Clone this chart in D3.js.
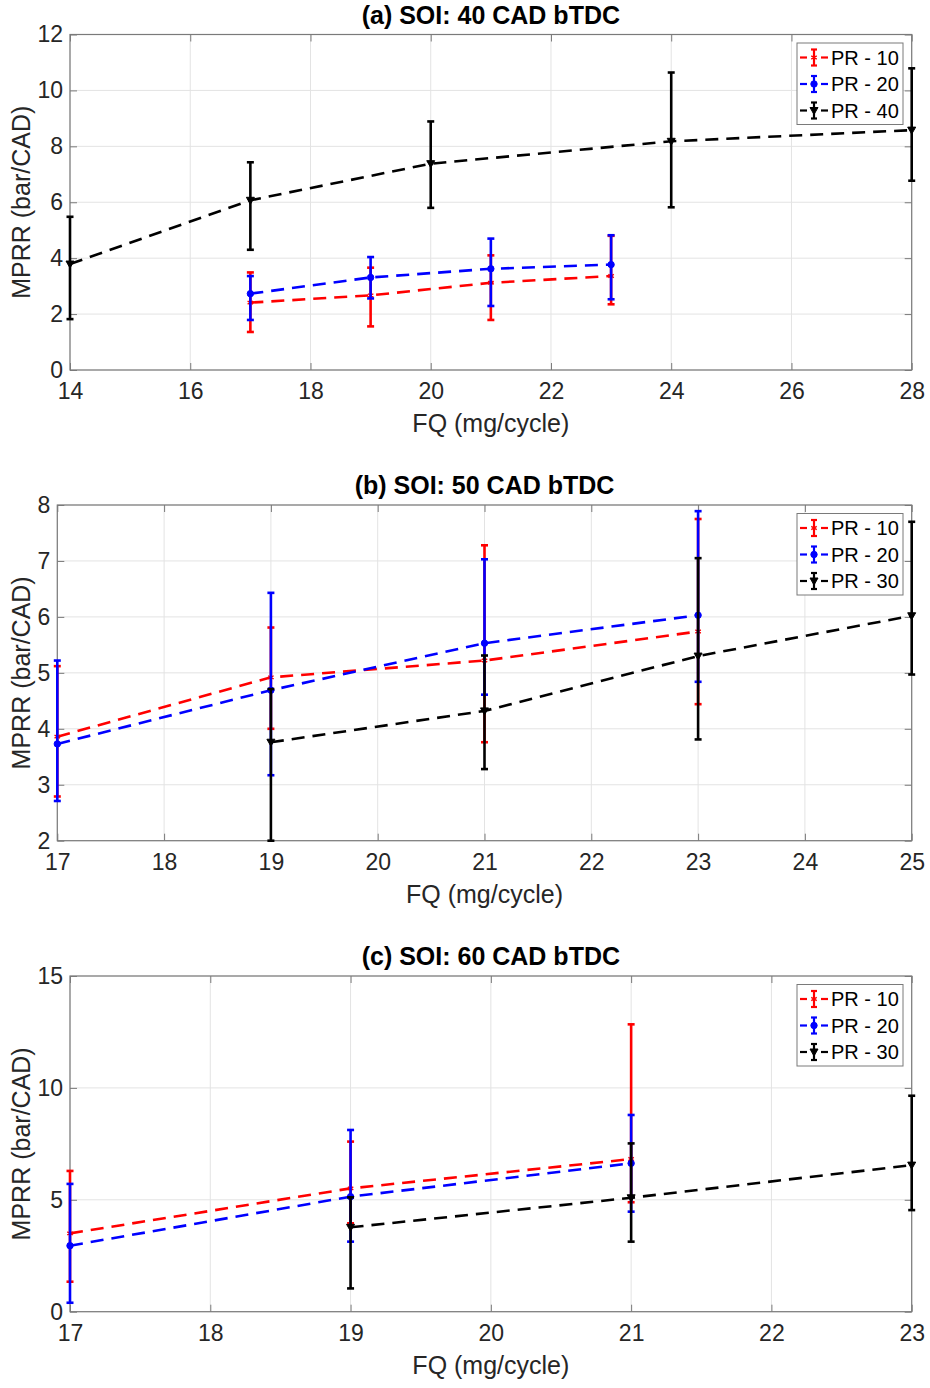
<!DOCTYPE html>
<html>
<head>
<meta charset="utf-8">
<script src="https://cdn.jsdelivr.net/npm/d3@7"></script>
<style>
  body { margin: 0; background: #fff; }
  svg { display: block; font-family: "Liberation Sans", Arial, Helvetica, sans-serif; }
</style>
</head>
<body>
<svg id="chart" width="930" height="1388"></svg>
<script>
// ---- data ----
// (a) SOI 40 CAD bTDC
var fqA = [17, 19, 21, 23];
var fqA40 = [14, 17, 20, 24, 28];
var meanA10 = [2.41, 2.67, 3.12, 3.36], lowA10 = [1.36, 1.56, 1.79, 2.35], highA10 = [3.49, 3.66, 4.10, 4.80];
var meanA20 = [2.73, 3.31, 3.62, 3.77], lowA20 = [1.79, 2.56, 2.29, 2.53], highA20 = [3.36, 4.04, 4.70, 4.82];
var meanA40 = [3.79, 6.07, 7.38, 8.18, 8.58], lowA40 = [1.82, 4.30, 5.80, 5.82, 6.77], highA40 = [5.48, 7.43, 8.89, 10.64, 10.79];

// (b) SOI 50 CAD bTDC
var fqB = [17, 19, 21, 23];
var fqB30 = [19, 21, 23, 25];
var meanB10 = [3.86, 4.92, 5.22, 5.74], lowB10 = [2.79, 4.00, 3.76, 4.44], highB10 = [5.12, 5.81, 7.28, 7.75];
var meanB20 = [3.73, 4.69, 5.53, 6.03], lowB20 = [2.71, 3.17, 4.61, 4.84], highB20 = [5.22, 6.43, 7.03, 7.89];
var meanB30 = [3.76, 4.32, 5.30, 6.02], lowB30 = [2.00, 3.28, 3.81, 4.97], highB30 = [4.71, 5.31, 7.05, 7.70];

// (c) SOI 60 CAD bTDC
var fqC = [17, 19, 21];
var fqC30 = [19, 21, 23];
var meanC10 = [3.50, 5.51, 6.82], lowC10 = [1.34, 3.95, 4.89], highC10 = [6.29, 7.60, 12.84];
var meanC20 = [2.95, 5.14, 6.63], lowC20 = [0.40, 3.13, 4.47], highC20 = [5.71, 8.12, 8.79];
var meanC30 = [3.77, 5.09, 6.55], lowC30 = [1.04, 3.13, 4.54], highC30 = [5.11, 7.52, 9.65];

var xTicksA = [14, 16, 18, 20, 22, 24, 26, 28], yTicksA = [0, 2, 4, 6, 8, 10, 12];
var xTicksB = [17, 18, 19, 20, 21, 22, 23, 24, 25], yTicksB = [2, 3, 4, 5, 6, 7, 8];
var xTicksC = [17, 18, 19, 20, 21, 22, 23], yTicksC = [0, 5, 10, 15];

var svg = d3.select("#chart");

function series(label, color, marker, x, mean, low, high) {
  return { label: label, color: color, marker: marker,
    points: x.map(function (v, i) { return { x: v, y: mean[i], lo: low[i], hi: high[i] }; }) };
}

var panels = [
  { title: "(a) SOI: 40 CAD bTDC", box: [70, 34.5, 911.7, 370], xTicks: xTicksA, yTicks: yTicksA,
    series: [series("PR - 10", "#ff0000", "star", fqA, meanA10, lowA10, highA10),
             series("PR - 20", "#0000ff", "circle", fqA, meanA20, lowA20, highA20),
             series("PR - 40", "#000000", "tri", fqA40, meanA40, lowA40, highA40)] },
  { title: "(b) SOI: 50 CAD bTDC", box: [57.3, 505, 911.7, 840.7], xTicks: xTicksB, yTicks: yTicksB,
    series: [series("PR - 10", "#ff0000", "star", fqB, meanB10, lowB10, highB10),
             series("PR - 20", "#0000ff", "circle", fqB, meanB20, lowB20, highB20),
             series("PR - 30", "#000000", "tri", fqB30, meanB30, lowB30, highB30)] },
  { title: "(c) SOI: 60 CAD bTDC", box: [70, 976, 911.7, 1311.7], xTicks: xTicksC, yTicks: yTicksC,
    series: [series("PR - 10", "#ff0000", "star", fqC, meanC10, lowC10, highC10),
             series("PR - 20", "#0000ff", "circle", fqC, meanC20, lowC20, highC20),
             series("PR - 30", "#000000", "tri", fqC30, meanC30, lowC30, highC30)] }
];

function drawMarker(g, type, color) {
  if (type === "circle") {
    g.append("circle").attr("r", 3.2).attr("fill", color).attr("stroke", color);
  } else if (type === "tri") {
    g.append("path").attr("d", "M-4,-3L4,-3L0,4Z").attr("fill", color).attr("stroke", color).attr("stroke-width", 1);
  } else {
    g.append("path").attr("d", d3.symbol(d3.symbolAsterisk, 28)()).attr("fill", "none")
      .attr("stroke", color).attr("stroke-width", 1.4);
  }
}

panels.forEach(function (p) {
  var L = p.box[0], T = p.box[1], R = p.box[2], B = p.box[3];
  var x = d3.scaleLinear().domain(d3.extent(p.xTicks)).range([L, R]);
  var y = d3.scaleLinear().domain(d3.extent(p.yTicks)).range([B, T]);
  var g = svg.append("g");

  // grid
  g.append("g").selectAll("line").data(p.xTicks).enter().append("line")
    .attr("x1", function (d) { return x(d); }).attr("x2", function (d) { return x(d); })
    .attr("y1", T).attr("y2", B).attr("stroke", "#e3e3e3").attr("stroke-width", 1);
  g.append("g").selectAll("line").data(p.yTicks).enter().append("line")
    .attr("y1", function (d) { return y(d); }).attr("y2", function (d) { return y(d); })
    .attr("x1", L).attr("x2", R).attr("stroke", "#e3e3e3").attr("stroke-width", 1);

  // axes (inward ticks, mirrored on top/right)
  var axisStyle = function (sel) {
    sel.select(".domain").remove();
    sel.selectAll(".tick line").attr("stroke", "#7a7a7a");
    sel.selectAll(".tick text").attr("fill", "#262626").style("font-size", "23px")
      .style("font-family", "'Liberation Sans', Arial, sans-serif");
  };
  g.append("g").attr("transform", "translate(0," + B + ")")
    .call(d3.axisBottom(x).tickValues(p.xTicks).tickSizeInner(-7).tickSizeOuter(0).tickPadding(13).tickFormat(d3.format("d")))
    .call(axisStyle);
  g.append("g").attr("transform", "translate(" + L + ",0)")
    .call(d3.axisLeft(y).tickValues(p.yTicks).tickSizeInner(-7).tickSizeOuter(0).tickPadding(7).tickFormat(d3.format("d")))
    .call(axisStyle);
  g.append("g").attr("transform", "translate(0," + T + ")")
    .call(d3.axisTop(x).tickValues(p.xTicks).tickSizeInner(-7).tickSizeOuter(0).tickFormat(""))
    .call(axisStyle);
  g.append("g").attr("transform", "translate(" + R + ",0)")
    .call(d3.axisRight(y).tickValues(p.yTicks).tickSizeInner(-7).tickSizeOuter(0).tickFormat(""))
    .call(axisStyle);
  g.append("rect").attr("x", L).attr("y", T).attr("width", R - L).attr("height", B - T)
    .attr("fill", "none").attr("stroke", "#7a7a7a").attr("stroke-width", 1.2);

  // series
  var line = d3.line().x(function (d) { return x(d.x); }).y(function (d) { return y(d.y); });
  p.series.forEach(function (s) {
    var sg = g.append("g");
    sg.append("path").datum(s.points).attr("d", line).attr("fill", "none")
      .attr("stroke", s.color).attr("stroke-width", 2.6).attr("stroke-dasharray", "13,8");
    var eb = sg.selectAll(".eb").data(s.points).enter().append("g");
    eb.append("line").attr("x1", function (d) { return x(d.x); }).attr("x2", function (d) { return x(d.x); })
      .attr("y1", function (d) { return y(d.lo); }).attr("y2", function (d) { return y(d.hi); })
      .attr("stroke", s.color).attr("stroke-width", 2.6);
    ["lo", "hi"].forEach(function (k) {
      eb.append("line").attr("x1", function (d) { return x(d.x) - 3.5; }).attr("x2", function (d) { return x(d.x) + 3.5; })
        .attr("y1", function (d) { return y(d[k]); }).attr("y2", function (d) { return y(d[k]); })
        .attr("stroke", s.color).attr("stroke-width", 2.6);
    });
    eb.each(function (d) {
      var m = d3.select(this).append("g").attr("transform", "translate(" + x(d.x) + "," + y(d.y) + ")");
      drawMarker(m, s.marker, s.color);
    });
  });

  // title and axis labels
  svg.append("text").attr("x", (L + R) / 2).attr("y", T - 11).attr("text-anchor", "middle")
    .style("font-size", "25px").style("font-weight", "bold").attr("fill", "#000").text(p.title);
  svg.append("text").attr("x", (L + R) / 2).attr("y", B + 62).attr("text-anchor", "middle")
    .style("font-size", "25px").attr("fill", "#262626").text("FQ (mg/cycle)");
  svg.append("text").attr("transform", "translate(30," + ((T + B) / 2) + ") rotate(-90)")
    .attr("text-anchor", "middle").style("font-size", "25px").attr("fill", "#262626").text("MPRR (bar/CAD)");

  // legend
  var lx = 797, ly = T + 8.5;
  var lg = svg.append("g").attr("transform", "translate(" + lx + "," + ly + ")");
  lg.append("rect").attr("width", 106).attr("height", 81.5).attr("fill", "#fff").attr("stroke", "#7a7a7a").attr("stroke-width", 1);
  p.series.forEach(function (s, i) {
    var cy = 14.5 + i * 26.5;
    var it = lg.append("g").attr("transform", "translate(0," + cy + ")");
    it.append("line").attr("x1", 3).attr("x2", 10).attr("y1", 0).attr("y2", 0).attr("stroke", s.color).attr("stroke-width", 2.2);
    it.append("line").attr("x1", 24).attr("x2", 31).attr("y1", 0).attr("y2", 0).attr("stroke", s.color).attr("stroke-width", 2.2);
    it.append("line").attr("x1", 17).attr("x2", 17).attr("y1", -8).attr("y2", 8).attr("stroke", s.color).attr("stroke-width", 2.2);
    it.append("line").attr("x1", 14).attr("x2", 20).attr("y1", -8).attr("y2", -8).attr("stroke", s.color).attr("stroke-width", 2.2);
    it.append("line").attr("x1", 14).attr("x2", 20).attr("y1", 8).attr("y2", 8).attr("stroke", s.color).attr("stroke-width", 2.2);
    var m = it.append("g").attr("transform", "translate(17,0)");
    drawMarker(m, s.marker, s.color);
    it.append("text").attr("x", 34).attr("y", 7).style("font-size", "20px").attr("fill", "#000").text(s.label);
  });
});
</script>
</body>
</html>
